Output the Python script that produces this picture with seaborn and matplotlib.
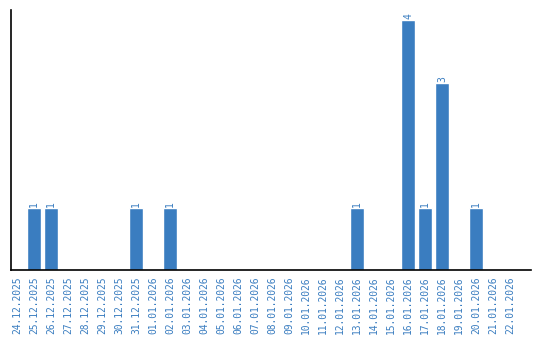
import matplotlib
matplotlib.use("Agg")
import matplotlib.pyplot as plt
import seaborn as sns
import pandas as pd

dates = ["24.12.2025", "25.12.2025", "26.12.2025", "27.12.2025", "28.12.2025",
         "29.12.2025", "30.12.2025", "31.12.2025", "01.01.2026", "02.01.2026",
         "03.01.2026", "04.01.2026", "05.01.2026", "06.01.2026", "07.01.2026",
         "08.01.2026", "09.01.2026", "10.01.2026", "11.01.2026", "12.01.2026",
         "13.01.2026", "14.01.2026", "15.01.2026", "16.01.2026", "17.01.2026",
         "18.01.2026", "19.01.2026", "20.01.2026", "21.01.2026", "22.01.2026"]
counts = [0, 1, 1, 0, 0, 0, 0, 1, 0, 1,
          0, 0, 0, 0, 0, 0, 0, 0, 0, 0,
          1, 0, 0, 4, 1, 3, 0, 1, 0, 0]

BLUE = "#3a7dc0"
sns.set_style("white")
plt.rcParams['font.family'] = ['DejaVu Sans Mono', 'DejaVu Sans']

df = pd.DataFrame({"date": dates, "count": counts})
fig = plt.figure(figsize=(5.4, 3.4), dpi=100)
ax = fig.add_axes([10.5 / 540, 70 / 340, (530.7 - 10.5) / 540, 260 / 340])
sns.barplot(data=df, x="date", y="count", color=BLUE, saturation=1, width=0.83, ax=ax)

for i, v in enumerate(counts):
    if v > 0:
        ax.text(i, v + 0.015, str(v), rotation=90, ha="center", va="bottom",
                color=BLUE, fontsize=7)

ax.set_xlim(-0.38, 30.2)
ax.set_ylim(0, 4.16)
ax.set_xlabel("")
ax.set_ylabel("")
ax.set_yticks([])
ax.tick_params(axis="x", length=0, pad=4.5, labelsize=6.9, labelcolor=BLUE)
for lbl in ax.get_xticklabels():
    lbl.set_rotation(90)
for s in ["top", "right"]:
    ax.spines[s].set_visible(False)
for s in ["left", "bottom"]:
    ax.spines[s].set_color("black")
    ax.spines[s].set_linewidth(1.2)

fig.savefig("out.png", dpi=100)
